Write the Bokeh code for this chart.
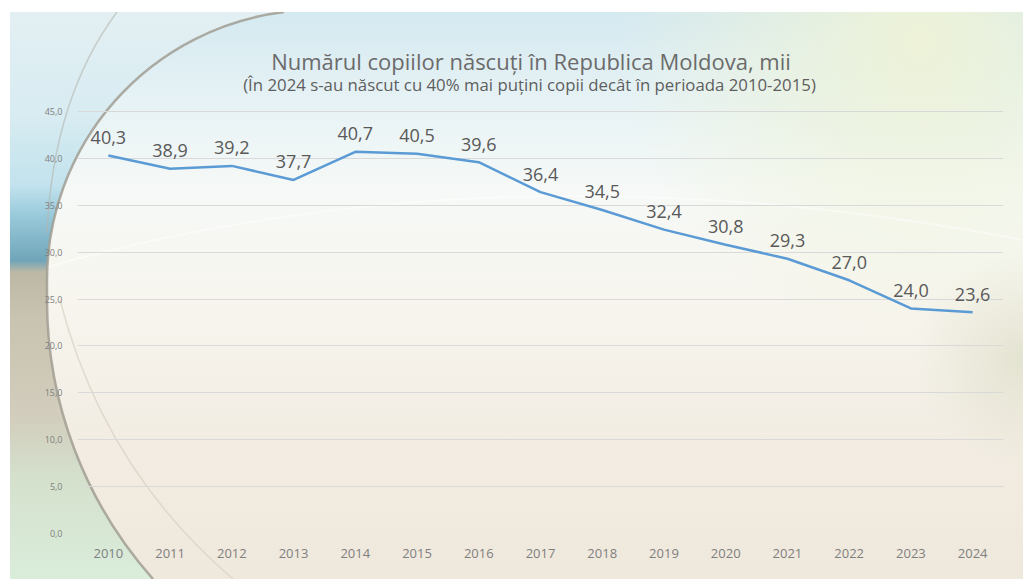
from urllib.parse import quote
from bokeh.plotting import figure
from bokeh.models import FixedTicker, Label, ColumnDataSource, Range1d, FactorRange, CustomJSTickFormatter
from bokeh.core.properties import value
from bokeh.embed import file_html
from bokeh.resources import INLINE

# ---------------- data ----------------
years = [str(y) for y in range(2010, 2025)]
births = [40.3, 38.9, 39.2, 37.7, 40.7, 40.5, 39.6, 36.4, 34.5, 32.4, 30.8, 29.3, 27.0, 24.0, 23.6]
labels = ["40,3", "38,9", "39,2", "37,7", "40,7", "40,5", "39,6", "36,4", "34,5", "32,4",
          "30,8", "29,3", "27,0", "24,0", "23,6"]
y_ticks = [0, 5, 10, 15, 20, 25, 30, 35, 40, 45]
title_text = "Numărul copiilor născuți în Republica Moldova, mii"
subtitle_text = "(În 2024 s-au născut cu 40% mai puțini copii decât în perioada 2010-2015)"

W, H = 1023, 579
FONT = "Open Sans"

# layout (pixels): frame extends above the 45 gridline so the titles live inside it
FRAME_L, FRAME_R, FRAME_B = 77, 1003, 533
TOP_45 = 111          # pixel row of the 45,0 gridline
FRAME_T = 31
y_end = 45 * (FRAME_B - FRAME_T) / (FRAME_B - TOP_45)
px_per_unit = (FRAME_B - TOP_45) / 45
px_per_cat = (FRAME_R - FRAME_L) / len(years)

def data_y(row):
    return (FRAME_B - row) / px_per_unit

def data_x(col):
    return (col - FRAME_L) / px_per_cat

# ---------------- decorative background (CSS, behind the transparent canvas) ----------------
svg = f'''<svg xmlns="http://www.w3.org/2000/svg" width="{W}" height="{H}" viewBox="0 0 {W} {H}">
<defs>
<linearGradient id="base" x1="0" y1="0" x2="0" y2="1">
<stop offset="0" stop-color="#d2e8f0"/>
<stop offset="0.17" stop-color="#e6f2f5"/>
<stop offset="0.33" stop-color="#f6f9f7"/>
<stop offset="0.52" stop-color="#f7f5ee"/>
<stop offset="0.78" stop-color="#f2ece2"/>
<stop offset="1" stop-color="#efe8dc"/>
</linearGradient>
<radialGradient id="tr" cx="920" cy="40" r="300" gradientUnits="userSpaceOnUse">
<stop offset="0" stop-color="#eef3d8" stop-opacity="1"/>
<stop offset="1" stop-color="#eef3d8" stop-opacity="0"/>
</radialGradient>
<radialGradient id="rb" cx="1023" cy="360" r="110" gradientUnits="userSpaceOnUse">
<stop offset="0" stop-color="#e2e2cf" stop-opacity="0.9"/>
<stop offset="1" stop-color="#e2e2cf" stop-opacity="0"/>
</radialGradient>
<linearGradient id="left" x1="0" y1="0" x2="0" y2="{H}" gradientUnits="userSpaceOnUse">
<stop offset="0" stop-color="#e4f0f3"/>
<stop offset="0.2" stop-color="#d8ecf2"/>
<stop offset="0.32" stop-color="#c2e2ed"/>
<stop offset="0.37" stop-color="#9acbdc"/>
<stop offset="0.45" stop-color="#70a5b9"/>
<stop offset="0.47" stop-color="#bdb8a6"/>
<stop offset="0.55" stop-color="#c9c3b1"/>
<stop offset="0.72" stop-color="#d2cdbc"/>
<stop offset="0.82" stop-color="#d4e0cc"/>
<stop offset="1" stop-color="#daeddb"/>
</linearGradient>
</defs>
<rect x="0" y="0" width="{W}" height="{H}" fill="url(#base)"/>
<rect x="0" y="0" width="{W}" height="{H}" fill="url(#tr)"/>
<rect x="0" y="0" width="{W}" height="{H}" fill="url(#rb)"/>
<path d="M0 0 L284 0 L284 12 A270 270 0 0 0 47 280 L47 300 A420 420 0 0 0 153 579 L0 579 Z" fill="url(#left)"/>
<path d="M47 267 Q500 140 1023 240" fill="none" stroke="#ffffff" stroke-opacity="0.45" stroke-width="2"/>
<path d="M117 12 Q53 98 47 233" fill="none" stroke="#b4b6ad" stroke-opacity="0.6" stroke-width="1.5"/>
<path d="M60 300 Q103 468 233 579" fill="none" stroke="#d3ccbe" stroke-opacity="0.6" stroke-width="1.5"/>
<path d="M284 12 A270 270 0 0 0 47 280 L47 300 A420 420 0 0 0 153 579" fill="none" stroke="#a19d93" stroke-opacity="0.85" stroke-width="2.5"/>
<rect x="0" y="0" width="{W}" height="12" fill="#ffffff"/>
<rect x="0" y="0" width="10" height="{H}" fill="#ffffff"/>
</svg>'''
bg_uri = "data:image/svg+xml," + quote(svg, safe="")

# ---------------- figure ----------------
source = ColumnDataSource(dict(year=years, births=births, label=labels))

p = figure(width=W, height=H, x_range=FactorRange(*years, range_padding=0),
           y_range=Range1d(0, y_end), output_backend="svg", toolbar_location=None,
           min_border_left=FRAME_L, min_border_right=W - FRAME_R,
           min_border_top=FRAME_T, min_border_bottom=H - FRAME_B)

p.styles = {"background-image": f'url("{bg_uri}")', "background-size": "100% 100%",
            "background-repeat": "no-repeat"}
p.border_fill_alpha = 0
p.background_fill_alpha = 0
p.outline_line_color = None

# titles
p.add_layout(Label(x=data_x(530.5), y=data_y(60), text=title_text,
                   text_align="center", text_baseline="alphabetic", text_font=FONT,
                   text_font_size="22px", text_color="#6b6b6b"))
p.add_layout(Label(x=data_x(529), y=data_y(84), text=subtitle_text,
                   text_align="center", text_baseline="alphabetic", text_font=FONT,
                   text_font_size="16.8px", text_color="#5e5e5e"))

p.line(x="year", y="births", source=source, line_color="#5b9bd5", line_width=2.5)
p.text(x="year", y="births", text="label", source=source, text_align="center",
       text_baseline="alphabetic", y_offset=-18, text_font=value(FONT),
       text_font_size="18px", text_color="#595959")

p.xgrid.grid_line_color = None
p.ygrid.grid_line_color = "#d9d9d9"
p.ygrid.grid_line_width = 1

p.yaxis.ticker = FixedTicker(ticks=y_ticks)
p.yaxis.formatter = CustomJSTickFormatter(code="return tick.toFixed(1).replace('.', ',');")
p.yaxis.major_label_text_font = FONT
p.yaxis.major_label_text_font_size = "9px"
p.yaxis.major_label_text_color = "#808080"
p.yaxis.major_label_standoff = 9

p.xaxis.major_label_text_font = FONT
p.xaxis.major_label_text_font_size = "13px"
p.xaxis.major_label_text_color = "#7f7f7f"
p.xaxis.major_label_standoff = 9

for ax in (p.xaxis, p.yaxis):
    ax.axis_line_color = None
    ax.major_tick_line_color = None
    ax.minor_tick_line_color = None

open("out.html", "w").write(file_html(p, INLINE))
